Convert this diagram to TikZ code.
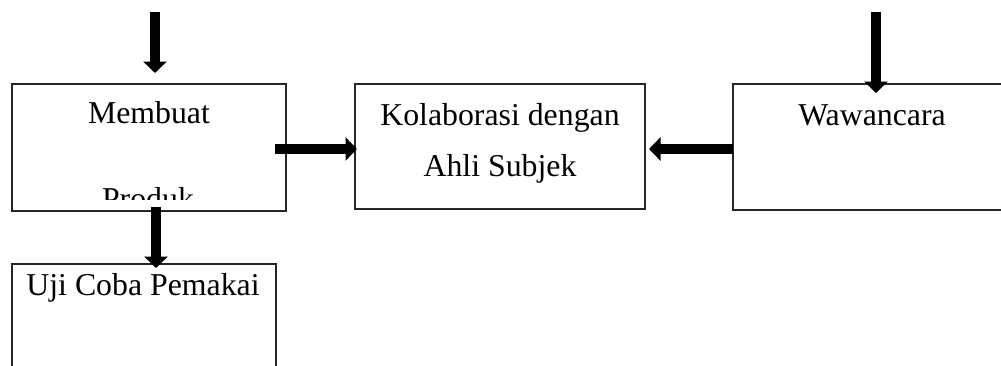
\documentclass[tikz,border=0pt]{standalone}
\usepackage{fontspec}
\setmainfont{Liberation Serif}
\usetikzlibrary{arrows.meta}
\begin{document}
\begin{tikzpicture}[x=1pt,y=-1pt,
  box/.style={draw=black!85,line width=1.2pt,inner sep=0pt,outer sep=0pt},
  txt/.style={inner sep=0pt,anchor=base,font=\fontsize{31.8}{38}\selectfont},
  arr/.style={line width=10.5pt,-{Triangle[width=23pt,length=11.5pt]}}]
\useasboundingbox (0,0) rectangle (1001,365);
\clip (0,0) rectangle (1001,365);
% boxes
\node[box,minimum width=274pt,minimum height=127pt] (memb) at (149,147.5) {};
\node[box,minimum width=290pt,minimum height=125pt] (kol) at (500,146.5) {};
\node[box,minimum width=280pt,minimum height=126pt] (waw) at (873,147) {};
\node[box,minimum width=264pt,minimum height=120pt] (uji) at (144,324) {};
% texts
\node[txt] (t1) at (149,123) {Membuat};
\begin{scope}
  \clip (12,84) rectangle (286,199.5);
  \node[txt] (t2) at (148,209) {Produk};
\end{scope}
\node[txt] (t3) at (500,125) {Kolaborasi dengan};
\node[txt] (t4) at (500,176.5) {Ahli Subjek};
\node[txt] (t5) at (872,125) {Wawancara};
\node[txt] (t6) at (143,295) {Uji Coba Pemakai};
% free ends
\coordinate (in1) at (155,12);
\coordinate (in2) at (876,12);
% connectors
\draw[arr] (in1) -- ([xshift=6pt,yshift=11pt]memb.north);
\draw[arr] (in2) -- ([xshift=3pt,yshift=-9pt]waw.north);
\draw[arr] ([xshift=-11pt,yshift=-1.5pt]memb.east) -- ([xshift=2pt,yshift=-2.5pt]kol.west);
\draw[arr] ([yshift=-2pt]waw.west) -- ([xshift=4pt,yshift=-2.5pt]kol.east);
\draw[arr] ([xshift=7pt,yshift=4pt]memb.south) -- ([xshift=12pt,yshift=-4pt]uji.north);
\end{tikzpicture}
\end{document}
